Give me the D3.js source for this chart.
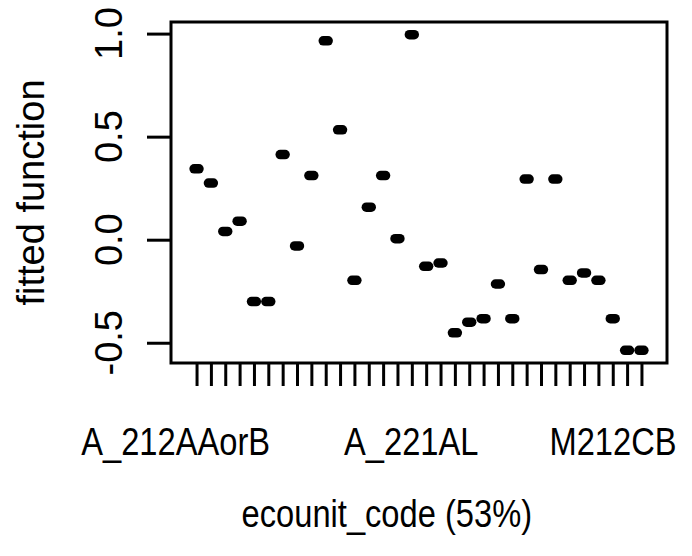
<!DOCTYPE html>
<html>
<head>
<meta charset="utf-8">
<script src="https://cdn.jsdelivr.net/npm/d3@7"></script>
<style>
  html, body { margin: 0; padding: 0; background: #fff; }
  svg { display: block; }
  text { font-family: "Liberation Sans", Arial, Helvetica, sans-serif; fill: #000; }
</style>
</head>
<body>
<svg id="chart" width="692" height="556"></svg>
<script>
// ---- data ----
const levels = d3.range(1, 33);               // 32 factor levels of ecounit_code
const fitted = [0.344, 0.275, 0.04, 0.09, -0.30, -0.30, 0.413, -0.03, 0.311, 0.965,
                0.533, -0.197, 0.158, 0.311, 0.005, 0.995, -0.129, -0.113, -0.452, -0.40,
                -0.383, -0.215, -0.383, 0.294, -0.145, 0.294, -0.197, -0.161, -0.197, -0.383,
                -0.537, -0.537];
const labelLevels = [1, 17, 31];
const labelTexts = ["A_212AAorB", "A_221AL", "M212CB"];
const yTicks = [-0.5, 0.0, 0.5, 1.0];
const yTickLabels = ["-0.5", "0.0", "0.5", "1.0"];
const xTitle = "ecounit_code  (53%)";
const yTitle = "fitted function";

// ---- layout ----
const box = { left: 171, right: 667, top: 22, bottom: 363 };
const fontSize = 38;
const layoutScale = 1.05;   // width used for placement (as the R device measured it)
const squeeze = 0.86;       // horizontal text is drawn narrower than it was measured

const n = levels.length;
const xpad = 0.04 * n;
const x = d3.scaleLinear().domain([0.5 - xpad, n + 0.5 + xpad]).range([box.left, box.right]);
const ymin = d3.min(fitted), ymax = d3.max(fitted);
const ypad = 0.04 * (ymax - ymin);
const y = d3.scaleLinear().domain([ymin - ypad, ymax + ypad]).range([box.bottom, box.top]);

const svg = d3.select("#chart");

function measure(str) {
  const t = svg.append("text").attr("font-size", fontSize).text(str);
  const w = t.node().getComputedTextLength();
  t.remove();
  return w;
}
function hText(g, str, cx, baseline) {
  const left = cx - measure(str) * layoutScale / 2;
  g.append("text")
    .attr("transform", `translate(${left},${baseline}) scale(${squeeze},1)`)
    .attr("text-anchor", "start")
    .attr("font-size", fontSize)
    .text(str);
}

// x axis ticks (all levels), labels only on selected levels
const xAxis = d3.axisBottom(x).tickValues(levels).tickSize(23).tickFormat("");
const gx = svg.append("g").attr("transform", `translate(0,${box.bottom})`).call(xAxis);
gx.select(".domain").remove();
gx.selectAll(".tick line").attr("stroke", "#000").attr("stroke-width", 3);

const gxl = svg.append("g");
labelLevels.forEach((lv, i) => hText(gxl, labelTexts[i], x(lv), 455));

// y axis
const yAxis = d3.axisLeft(y).tickValues(yTicks).tickSize(24).tickFormat("");
const gy = svg.append("g").attr("transform", `translate(${box.left},0)`).call(yAxis);
gy.select(".domain").remove();
gy.selectAll(".tick line").attr("stroke", "#000").attr("stroke-width", 3);

svg.append("g").selectAll("text").data(yTicks).join("text")
  .attr("transform", d => `translate(122,${y(d)}) rotate(-90)`)
  .attr("text-anchor", "middle")
  .attr("font-size", fontSize)
  .text((d, i) => yTickLabels[i]);

// titles
hText(svg, xTitle, (box.left + box.right) / 2, 527);

svg.append("text")
  .attr("transform", `translate(44,${(box.top + box.bottom) / 2}) rotate(-90)`)
  .attr("text-anchor", "middle")
  .attr("font-size", fontSize)
  .text(yTitle);

// median segments (degenerate boxplots)
const hw = 0.17;
svg.append("g").selectAll("line").data(levels).join("line")
  .attr("x1", d => x(d - hw))
  .attr("x2", d => x(d + hw))
  .attr("y1", (d, i) => y(fitted[i]))
  .attr("y2", (d, i) => y(fitted[i]))
  .attr("stroke", "#000")
  .attr("stroke-width", 9.5)
  .attr("stroke-linecap", "round");

// plot frame
svg.append("rect")
  .attr("x", box.left).attr("y", box.top)
  .attr("width", box.right - box.left).attr("height", box.bottom - box.top)
  .attr("fill", "none").attr("stroke", "#000").attr("stroke-width", 3);
</script>
</body>
</html>
